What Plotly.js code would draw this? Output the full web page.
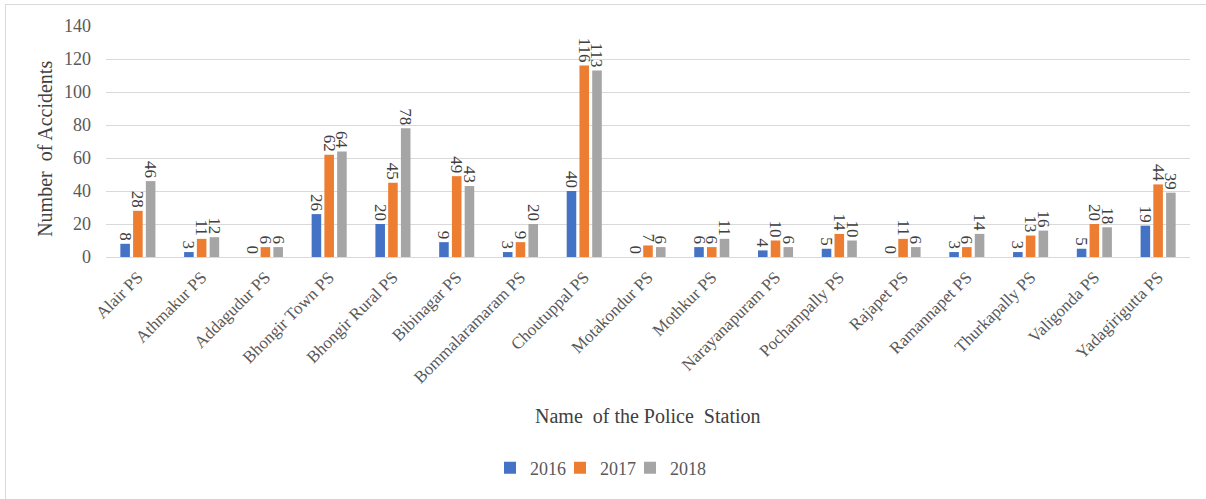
<!DOCTYPE html>
<html>
<head>
<meta charset="utf-8">
<script src="https://cdn.plot.ly/plotly-3.0.1.min.js"></script>
<style>
  html, body { margin: 0; padding: 0; background: #ffffff; overflow: hidden; }
  #frame { position: absolute; left: 5px; top: 4px; width: 1220px; height: 520px; border: 1px solid #d9d9d9; box-sizing: border-box; }
  #chart { position: absolute; left: 0; top: 0; width: 1206px; height: 499px; }
</style>
</head>
<body>
<div id="frame"></div>
<div id="chart"></div>
<script>
const stations = ["Alair PS", "Athmakur PS", "Addagudur PS", "Bhongir Town PS", "Bhongir Rural PS",
  "Bibinagar PS", "Bommalaramaram PS", "Choutuppal PS", "Motakondur PS", "Mothkur PS",
  "Narayanapuram PS", "Pochampally PS", "Rajapet PS", "Ramannapet PS", "Thurkapally PS",
  "Valigonda PS", "Yadagirigutta PS"];
const y2016 = [8, 3, 0, 26, 20, 9, 3, 40, 0, 6, 4, 5, 0, 3, 3, 5, 19];
const y2017 = [28, 11, 6, 62, 45, 49, 9, 116, 7, 6, 10, 14, 11, 6, 13, 20, 44];
const y2018 = [46, 12, 6, 64, 78, 43, 20, 113, 6, 11, 6, 10, 6, 14, 16, 18, 39];
const seriesNames = ["2016", "2017", "2018"];
const seriesColors = ["#4472C4", "#ED7D31", "#A5A5A5"];
const seriesValues = [y2016, y2017, y2018];
const legendIds = ["legend", "legend2", "legend3"];

const serif = "Times New Roman, Liberation Serif, DejaVu Serif, serif";

const traces = seriesValues.map((vals, i) => ({
  type: "bar",
  name: seriesNames[i],
  legend: legendIds[i],
  x: stations,
  y: vals,
  marker: { color: seriesColors[i] },
  text: vals.map(String),
  textposition: "outside",
  textangle: 90,
  constraintext: "none",
  cliponaxis: false,
  textfont: { family: serif, size: 17, color: "#404040" },
  hoverinfo: "x+y+name"
}));

const legendBase = {
  orientation: "h",
  xanchor: "left",
  y: -0.914,
  yanchor: "middle",
  font: { family: serif, size: 18, color: "#595959" },
  itemwidth: 30,
  bgcolor: "rgba(0,0,0,0)"
};

const layout = {
  width: 1206,
  height: 499,
  margin: { l: 106, r: 16, t: 26, b: 240 },
  paper_bgcolor: "rgba(0,0,0,0)",
  plot_bgcolor: "rgba(0,0,0,0)",
  barmode: "group",
  bargap: 0.4,
  bargroupgap: 0.25,
  font: { family: serif, color: "#595959", size: 17 },
  xaxis: {
    tickangle: -45,
    tickfont: { family: serif, size: 17, color: "#595959" },
    showline: false,
    ticks: "",
    ticklabelstandoff: 6,
    automargin: false
  },
  yaxis: {
    range: [0, 140],
    dtick: 20,
    tickfont: { family: serif, size: 18, color: "#595959" },
    gridcolor: "#d9d9d9",
    zeroline: true,
    zerolinecolor: "#d9d9d9",
    showline: false,
    ticks: "",
    ticklabelstandoff: 14,
    automargin: false
  },
  showlegend: true,
  legend: Object.assign({}, legendBase, { x: (490 - 106) / 1084 }),
  legend2: Object.assign({}, legendBase, { x: (560 - 106) / 1084 }),
  legend3: Object.assign({}, legendBase, { x: (630 - 106) / 1084 }),
  annotations: [
    {
      text: "Name &nbsp;of the Police &nbsp;Station",
      xref: "paper", yref: "paper",
      x: 0.5, y: -0.687,
      xanchor: "center", yanchor: "middle",
      showarrow: false,
      font: { family: serif, size: 20, color: "#404040" }
    },
    {
      text: "Number &nbsp;of Accidents",
      xref: "paper", yref: "paper",
      x: -0.0563, y: 0.468,
      xanchor: "center", yanchor: "middle",
      textangle: -90,
      showarrow: false,
      font: { family: serif, size: 20, color: "#404040" }
    }
  ]
};

Plotly.newPlot("chart", traces, layout, { displayModeBar: false });
</script>
</body>
</html>
